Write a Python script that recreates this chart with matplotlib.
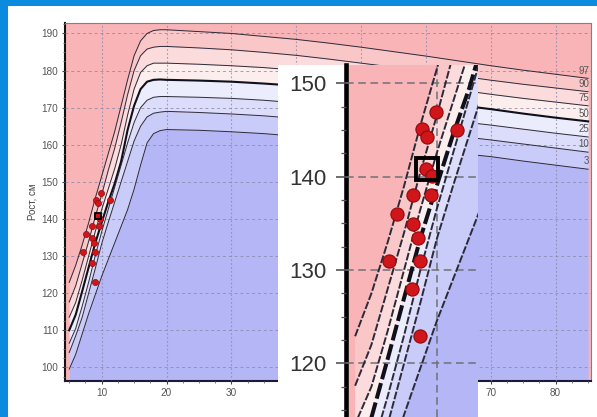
import matplotlib
matplotlib.use('Agg')
import matplotlib.pyplot as plt
from matplotlib.patches import Rectangle
from matplotlib.ticker import MultipleLocator

plt.rcParams['font.family'] = ['Liberation Sans', 'DejaVu Sans']

# age, years
ages = [5, 6, 7, 8, 9, 10, 11, 12, 13, 14, 15, 16, 17, 18, 19, 20,
        25, 30, 35, 40, 45, 50, 55, 60, 65, 70, 75, 80, 85]

# height percentiles, cm
p97 = [122.9, 127.5, 133.0, 139.0, 145.5, 151.5, 157.5, 163.5, 170.5, 177.5, 184.0, 188.0, 190.0, 190.8, 191.0, 191.0,
       190.5, 190.0, 189.2, 188.4, 187.4, 186.3, 185.1, 183.9, 182.6, 181.3, 180.1, 179.0, 177.9]
p90 = [117.6, 122.0, 128.0, 134.0, 140.5, 146.5, 153.0, 159.0, 166.0, 173.5, 180.0, 184.0, 185.8, 186.3, 186.5, 186.5,
       186.1, 185.6, 184.9, 184.1, 183.1, 182.0, 180.9, 179.8, 178.6, 177.4, 176.3, 175.3, 174.3]
p75 = [113.5, 117.5, 123.5, 130.0, 136.5, 142.5, 148.0, 153.5, 160.0, 168.0, 175.0, 179.5, 181.3, 182.0, 182.0, 182.0,
       181.7, 181.3, 180.8, 180.1, 179.2, 178.2, 177.1, 176.0, 174.8, 173.6, 172.5, 171.5, 170.5]
p50 = [110.0, 114.2, 120.5, 127.0, 133.4, 139.0, 144.5, 149.5, 155.5, 164.0, 170.5, 175.0, 177.0, 177.5, 177.6, 177.5,
       177.3, 177.0, 176.5, 175.9, 175.0, 174.0, 172.9, 171.8, 170.7, 169.6, 168.4, 167.3, 166.3]
p25 = [106.5, 110.5, 116.5, 123.0, 130.0, 136.5, 142.5, 148.5, 154.5, 160.5, 166.0, 170.0, 172.0, 172.8, 173.0, 173.0,
       172.8, 172.5, 172.0, 171.3, 170.4, 169.4, 168.4, 167.3, 166.3, 165.3, 164.2, 163.1, 162.1]
p10 = [104.0, 108.5, 113.5, 120.0, 126.5, 133.3, 139.0, 144.5, 150.0, 155.5, 161.0, 165.0, 167.5, 168.5, 168.8, 169.0,
       168.7, 168.3, 167.8, 167.1, 166.2, 165.2, 164.2, 163.2, 162.3, 161.3, 160.2, 159.1, 158.0]
p3 = [99.5, 103.5, 109.0, 114.5, 119.5, 124.5, 129.0, 133.5, 138.0, 142.5, 148.0, 154.5, 160.5, 163.0, 163.8, 164.1,
      163.9, 163.5, 163.0, 162.3, 161.4, 160.4, 159.4, 158.5, 157.7, 156.8, 155.6, 154.5, 153.4]

curves = [p97, p90, p75, p50, p25, p10, p3]
curve_names = ['97', '90', '75', '50', '25', '10', '3']

# measured children
pt_age = [9.96, 9.08, 9.39, 11.27, 9.34, 9.69, 8.56, 9.63, 7.55, 8.56, 8.87, 7.07, 8.98, 8.47, 8.98]
pt_height = [146.9, 145.1, 144.2, 145.0, 140.8, 140.1, 138.0, 138.0, 136.0, 134.9, 133.4, 131.0, 131.0, 128.0, 122.9]

# selected child
sel_age = [9.42]
sel_height = [140.8]

band_colors = ['#F8B4B6', '#FAC7C9', '#FBDBDC', '#FDEEEE',
               '#ECEDFC', '#DBDDFA', '#C9CBF8', '#B4B6F6']


def draw_chart(ax, lw, thick, ls, ms, mew, sq, sq_lw):
    ax.set_facecolor(band_colors[0])
    bottom = ax.get_ylim()[0]
    for i in range(len(curves) - 1):
        ax.fill_between(ages, curves[i], curves[i + 1], color=band_colors[i + 1], lw=0, zorder=1)
    ax.fill_between(ages, curves[-1], bottom, color=band_colors[-1], lw=0, zorder=1)
    for name, c in zip(curve_names, curves):
        ax.plot(ages, c, color='#10101c' if name == '50' else '#2a2a3a',
                lw=thick if name == '50' else lw, ls=ls, zorder=3)
    ax.plot(pt_age, pt_height, 'o', ms=ms, mfc='#D0161A', mec='#900A0C', mew=mew, zorder=4)
    ax.plot(sel_age, sel_height, 's', ms=sq, mfc='none', mec='black', mew=sq_lw, zorder=5)


fig = plt.figure(figsize=(5.97, 4.17), dpi=100, facecolor='#0A8BE0')
fig.add_artist(Rectangle((8 / 597, 0), 1, 411 / 417, transform=fig.transFigure,
                         facecolor='white', edgecolor='none', zorder=-1))

# main chart
ax = fig.add_axes([65 / 597, 36.3 / 417, 525.7 / 597, 358 / 417], zorder=1)
ax.set_xlim(4.35, 85.4)
ax.set_ylim(96.4, 192.9)
draw_chart(ax, lw=0.7, thick=1.5, ls='-', ms=4.4, mew=0.5, sq=5, sq_lw=1.3)

ax.set_xticks(range(10, 90, 10))
ax.set_yticks(range(100, 200, 10))
ax.xaxis.set_minor_locator(MultipleLocator(2.5))
ax.yaxis.set_minor_locator(MultipleLocator(2.5))
ax.tick_params(which='major', direction='out', length=2.5, width=0.8, pad=2.5,
               color='#444', labelsize=7.2, labelcolor='#555')
ax.tick_params(which='minor', direction='out', length=1.3, width=0.6, color='#666')
ax.grid(axis='y', ls=(0, (3, 3)), color='#8a88a8', lw=0.7, alpha=0.8, zorder=2)
ax.grid(axis='x', ls=(0, (1.5, 2)), color='#8a88a8', lw=0.8, alpha=0.8, zorder=2)
ax.set_axisbelow(False)
for side in ['top', 'right']:
    ax.spines[side].set_color('#8a7d80')
    ax.spines[side].set_linewidth(0.8)
ax.spines['left'].set_color('#111')
ax.spines['left'].set_linewidth(1.5)
ax.spines['bottom'].set_color('#1a1a38')
ax.spines['bottom'].set_linewidth(1.5)
ax.set_ylabel('Рост, см', fontsize=7, color='#444')
ax.yaxis.set_label_coords(-0.052, 0.5)

for name, c in zip(curve_names, curves):
    ax.text(85.2, c[-1] + 2.1, name, ha='right', va='center', fontsize=7, color='#555', zorder=6)

# magnified view of the measured group
fig.add_artist(Rectangle((278 / 597, 0), 68 / 597, 352 / 417, transform=fig.transFigure,
                         facecolor='white', edgecolor='none', zorder=2))
ax2 = fig.add_axes([346 / 597, 0, 132.3 / 597, 352 / 417], zorder=3)
ax2.set_xlim(4.44, 12.55)
ax2.set_ylim(114.25, 151.96)
draw_chart(ax2, lw=1.4, thick=2.9, ls=(0, (4, 1)), ms=9.5, mew=0.8, sq=15.5, sq_lw=2.8)

ax2.set_xticks([10])
ax2.set_yticks([120, 130, 140, 150])
ax2.yaxis.set_minor_locator(MultipleLocator(2.5))
ax2.tick_params(axis='x', length=0, labelbottom=False)
ax2.tick_params(axis='y', which='major', direction='out', length=7, width=1.2, pad=7,
                color='#555', labelsize=16, labelcolor='#333')
ax2.tick_params(axis='y', which='minor', direction='out', length=3.5, width=0.9, color='#555')
ax2.grid(True, ls=(0, (5, 3)), color='#707078', lw=1.1, zorder=2)
ax2.set_axisbelow(False)
for side in ['top', 'right', 'bottom']:
    ax2.spines[side].set_visible(False)
ax2.spines['left'].set_color('black')
ax2.spines['left'].set_linewidth(3.3)

fig.savefig('out.png', dpi=100, facecolor=fig.get_facecolor())
